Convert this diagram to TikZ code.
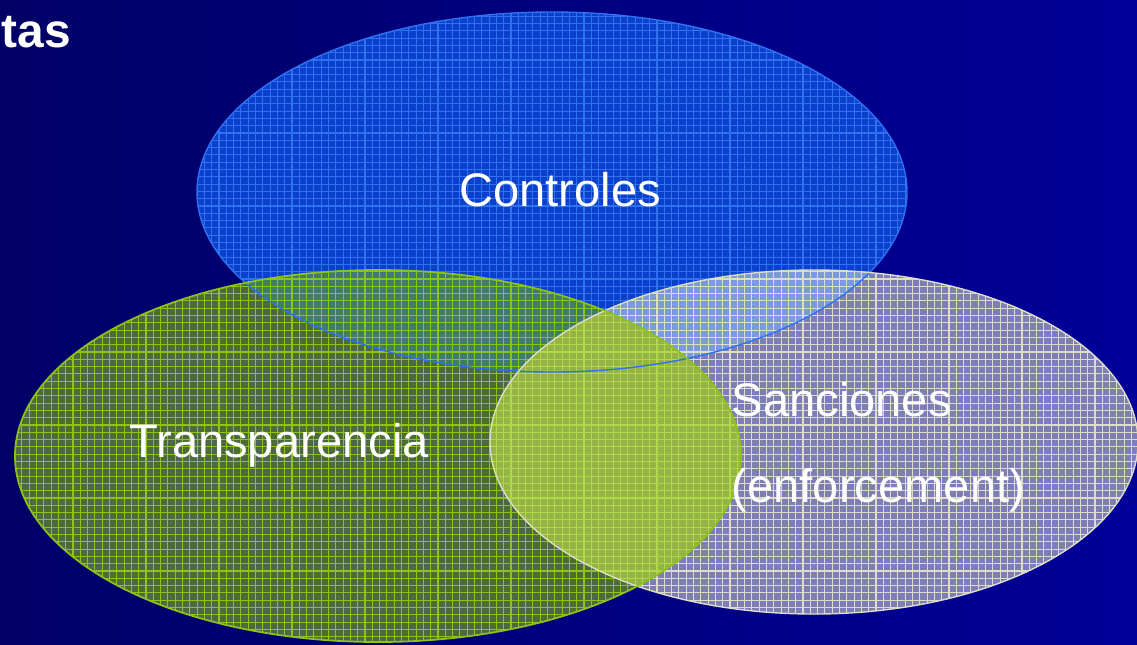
\documentclass[tikz,border=0pt]{standalone}
\usepackage{fontspec}
\setmainfont{Liberation Sans}
\usepackage{tikz}
\usetikzlibrary{positioning}

\definecolor{fondG}{HTML}{000066}
\definecolor{fondD}{HTML}{000099}
\definecolor{colC}{HTML}{0A40CC}
\definecolor{ligneC}{HTML}{2E72F2}
\definecolor{colT}{HTML}{4C6A3E}
\definecolor{ligneT}{HTML}{8CC21A}
\definecolor{colS}{HTML}{7E7EB6}
\definecolor{ligneS}{HTML}{DCDCC8}
\definecolor{colCT}{HTML}{3F7C6A}
\definecolor{colCS}{HTML}{7A9ADA}
\definecolor{colST}{HTML}{96B446}
\definecolor{ligneST}{HTML}{B0D84A}

\begin{document}
\begin{tikzpicture}[x=0.01cm,y=0.01cm,
    quadrillage/.style={line width=0.3pt,step=7.3},
    etiquette/.style={text=white,font=\fontsize{13.4}{16}\selectfont,inner sep=0pt}]

\def \Largeur {1137}
\def \Hauteur {644}
\useasboundingbox (0,0) rectangle (\Largeur,\Hauteur);
% ellipse Controles
\coordinate (cC) at (552,452);
\def \rxC {355} \def \ryC {180}
% ellipse Transparencia
\coordinate (cT) at (378,188);
\def \rxT {363} \def \ryT {186}
% ellipse Sanciones
\coordinate (cS) at (814,202);
\def \rxS {324} \def \ryS {172}

% fond
\shade[left color=fondG, right color=fondD] (0,0) rectangle (\Largeur,\Hauteur);

% Controles
\begin{scope}
    \clip (cC) ellipse [x radius=\rxC, y radius=\ryC];
    \fill[colC] (0,0) rectangle (\Largeur,\Hauteur);
    \draw[quadrillage, ligneC] (0,0) grid (\Largeur,\Hauteur);
\end{scope}
% Sanciones
\begin{scope}
    \clip (cS) ellipse [x radius=\rxS, y radius=\ryS];
    \fill[colS] (0,0) rectangle (\Largeur,\Hauteur);
    \draw[quadrillage, ligneS] (0,0) grid (\Largeur,\Hauteur);
\end{scope}
% Transparencia
\begin{scope}
    \clip (cT) ellipse [x radius=\rxT, y radius=\ryT];
    \fill[colT] (0,0) rectangle (\Largeur,\Hauteur);
    \draw[quadrillage, ligneT] (0,0) grid (\Largeur,\Hauteur);
\end{scope}
% intersection Controles / Transparencia
\begin{scope}
    \clip (cC) ellipse [x radius=\rxC, y radius=\ryC];
    \clip (cT) ellipse [x radius=\rxT, y radius=\ryT];
    \fill[colCT] (0,0) rectangle (\Largeur,\Hauteur);
    \draw[quadrillage, ligneT] (0,0) grid (\Largeur,\Hauteur);
\end{scope}
% intersection Controles / Sanciones
\begin{scope}
    \clip (cC) ellipse [x radius=\rxC, y radius=\ryC];
    \clip (cS) ellipse [x radius=\rxS, y radius=\ryS];
    \fill[colCS] (0,0) rectangle (\Largeur,\Hauteur);
    \draw[quadrillage, ligneS] (0,0) grid (\Largeur,\Hauteur);
\end{scope}
% intersection Sanciones / Transparencia
\begin{scope}
    \clip (cS) ellipse [x radius=\rxS, y radius=\ryS];
    \clip (cT) ellipse [x radius=\rxT, y radius=\ryT];
    \fill[colST] (0,0) rectangle (\Largeur,\Hauteur);
    \draw[quadrillage, ligneST] (0,0) grid (\Largeur,\Hauteur);
\end{scope}

% contours
\draw[ligneC, line width=0.4pt] (cC) ellipse [x radius=\rxC, y radius=\ryC];
\draw[ligneS, line width=0.4pt] (cS) ellipse [x radius=\rxS, y radius=\ryS];
\draw[ligneT, line width=0.5pt] (cT) ellipse [x radius=\rxT, y radius=\ryT];

% textes
\node[etiquette] (controles) at (560,454) {Controles};
\node[etiquette] (transp) at (279,199) {Transparencia};
\node[etiquette, anchor=west] (sanc) at (731,244) {Sanciones};
\node[etiquette, anchor=west] (enf) at (731,154) {(enforcement)};
\node[text=white, inner sep=0pt, anchor=base west,
      font=\fontsize{13.6}{16}\selectfont\bfseries] (titre) at (1,597) {tas};

\end{tikzpicture}
\end{document}
